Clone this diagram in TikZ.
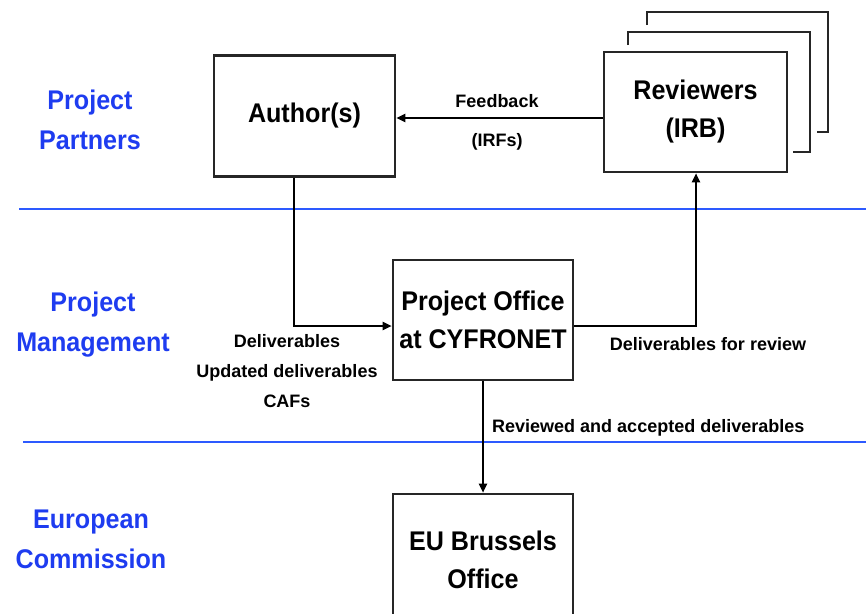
\documentclass[tikz,border=0pt]{standalone}
\usepackage{fontspec}
\setmainfont{Liberation Sans}
\newfontfamily\bigf[FakeStretch=0.93]{Liberation Sans}
\usetikzlibrary{arrows.meta,calc}
\definecolor{pblue}{RGB}{30,60,240}
\definecolor{lblue}{RGB}{45,90,255}
\begin{document}
\begin{tikzpicture}[x=1pt,y=-1pt,
  box/.style={draw=black!85, line width=2.6pt, fill=white, align=center, inner sep=0pt,
    font=\bigf\bfseries\fontsize{27}{38}\selectfont},
  lab/.style={font=\bfseries\fontsize{18}{30}\selectfont, align=center, inner sep=0pt},
  side/.style={text=pblue, font=\bigf\bfseries\fontsize{27}{40}\selectfont, align=center, inner sep=0pt},
  conn/.style={draw=black, line width=2pt, -{Triangle[length=9pt,width=8pt]}},
  frame/.style={draw=black!85, line width=2.6pt},
  lane/.style={draw=lblue, line width=2pt}]
\useasboundingbox (0,0) rectangle (866,613);
\clip (0,0) rectangle (866,613);
% swim lane separators
\draw[lane] (19,209) -- (866,209);
\draw[lane] (23,442) -- (866,442);
% side labels
\node[side, anchor=north] (pp) at (90,90) {Project\\Partners};
\node[side, anchor=north] (pm) at (93,292) {Project\\Management};
\node[side, anchor=north] (ec) at (91,510) {European\\Commission};
% stacked reviewer frames
\draw[frame] (647,25) |- (828,12) |- (817,132);
\draw[frame] (628,45) |- (810,32) |- (793,152);
% boxes
\node[box, minimum width=181pt, minimum height=121pt] (aut) at (304.5,116) {Author(s)};
\node[box, minimum width=183pt, minimum height=120pt] (rev) at (695.5,112) {Reviewers\\(IRB)};
\node[box, minimum width=180pt, minimum height=120pt] (po) at (483,320) {Project Office\\at CYFRONET};
\node[box, minimum width=180pt, minimum height=132pt] (eu) at (483,560) {EU Brussels\\Office};
% helper coordinates
\coordinate (a1) at (294,326);
\coordinate (r1) at (696,0);
% connectors
\draw[conn] ($(rev.west)+(0,6)$) -- ($(aut.east)+(0,2)$);
\draw[conn] (aut.south -| a1) |- (po.west |- a1);
\draw[conn] (po.east |- a1) -| (rev.south -| r1);
\draw[conn] (po.south) -- (eu.north);
% labels
\node[lab, anchor=base] (fb) at (497,107) {Feedback};
\node[lab, anchor=base] (irf) at (497,146) {(IRFs)};
\node[lab, anchor=north] (del) at (287,334) {Deliverables\\Updated deliverables\\CAFs};
\node[lab, anchor=base] (dfr) at (708,350) {Deliverables for review};
\node[lab, anchor=base west] (raa) at (492,432) {Reviewed and accepted deliverables};
\end{tikzpicture}
\end{document}
